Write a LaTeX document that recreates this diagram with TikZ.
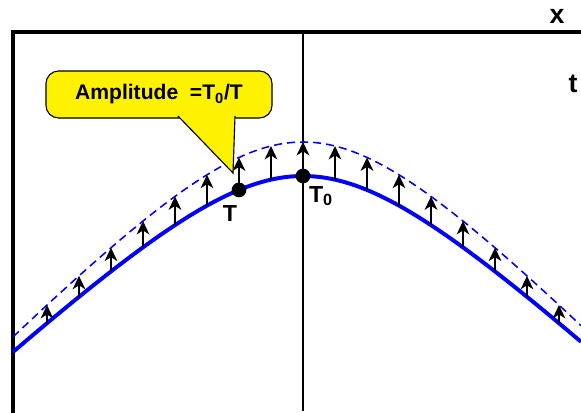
\documentclass[tikz,border=0pt]{standalone}
\usepackage{fontspec}
\setmainfont{Liberation Sans}
\usetikzlibrary{arrows.meta}
\tikzset{
  point/.style={
    shape = circle,
    fill,
    inner sep = 0pt,
    minimum size = 10.5pt
  },
  lift/.style={
    line width = 1.4pt,
    -{Stealth[length=9.5pt,width=9pt,inset=2.8pt]}
  },
  biglift/.style={
    lift,
    line width = 2.1pt
  },
  callout/.style={
    draw,
    fill = yellow,
    line width = 0.8pt,
    rounded corners = 9pt,
    minimum width = 5.65cm,
    minimum height = 1.175cm
  },
  declare function={
    lowcurve(\x) = 176+93.7*(sqrt(1.69+((\x-303)/100)^2)-1.3);
    highcurve(\x) = 142+103.8*(sqrt(1.69+((\x-303)/100)^2)-1.3);
  }
}

\begin{document}
\begin{tikzpicture}[x=0.025cm, y=-0.025cm, font=\fontsize{15}{18}\selectfont\bfseries]
    \useasboundingbox (0,0) rectangle (581,413);
    % axes
    \draw[line width=2.2pt] (13,413) -- (13,32) -- (581,32);
    \draw[line width=1.1pt] (303,32) -- (303,411);
    \node[font=\fontsize{19}{22}\selectfont\bfseries] (xlabel) at (557,16) {x};
    \node[font=\fontsize{19}{22}\selectfont\bfseries] (tlabel) at (573,84) {t};
    % shifted profile
    \draw[blue, line width=1.1pt, dash pattern=on 5.7pt off 3.6pt]
        plot[domain=13:581, samples=120] (\x,{highcurve(\x)});
    % callout
    \node[callout] (amp) at (159,94.5) {Amplitude\ \ =T\textsubscript{0}/T};
    \draw[fill=yellow, line width=0.8pt] (178,116) -- (233,173) -- (235,116);
    % profile
    \draw[blue, line width=2.8pt]
        plot[domain=13:581, samples=120] (\x,{lowcurve(\x)});
    \foreach \i in {0,...,7,9,10,...,16}{
            \coordinate (s\i) at ({47+32*\i},{lowcurve(47+32*\i)});
            \coordinate (d\i) at ({47+32*\i},{highcurve(47+32*\i)});
            \draw[lift] (s\i) -- (d\i);
        }
    \coordinate (d8) at (303,{highcurve(303)});
    \node[point] (T) at (s6) {};
    \node[point] (T0) at (303,{lowcurve(303)}) {};
    \draw[biglift] (T0) -- (d8);
    \node[font=\fontsize{16.5}{19}\selectfont\bfseries] (Tlabel) at (230,214) {T};
    \node[font=\fontsize{16.5}{19}\selectfont\bfseries] (T0label) at (321,196) {T\textsubscript{0}};
\end{tikzpicture}
\end{document}
